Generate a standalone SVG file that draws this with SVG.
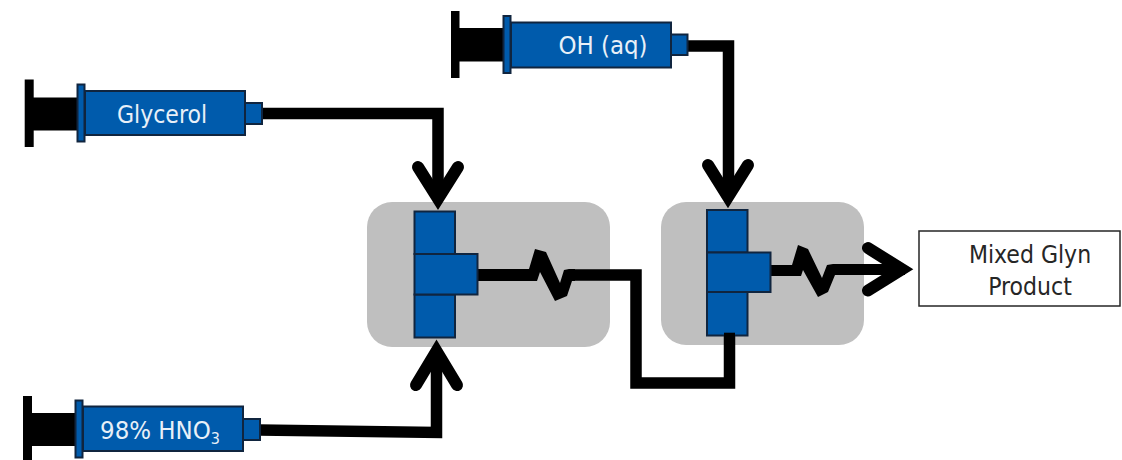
<svg xmlns="http://www.w3.org/2000/svg" width="1122" height="460" viewBox="0 0 1122 460">
<style>
.blue{fill:#005bac;stroke:#10253f;stroke-width:2}
.blk{fill:#000}
.pipe{fill:none;stroke:#000;stroke-width:11.5;stroke-linejoin:miter}
.head{fill:none;stroke:#000;stroke-width:12;stroke-linecap:round;stroke-linejoin:miter}
.chip{fill:#bfbfbf}
text{font-family:"DejaVu Sans","Noto Sans",sans-serif;font-stretch:condensed;font-size:24.500px;text-anchor:middle}
.w{fill:#e8f0f8}
.d{fill:#262626}
</style>
<rect width="1122" height="460" fill="#fff"/>
<g id="chip-1"><rect class="chip" x="367" y="202" width="243" height="145" rx="25"/></g>
<g id="chip-2"><rect class="chip" x="661" y="202" width="203" height="143" rx="25"/></g>
<g id="connectors">
<path class="pipe" d="M261 113.500H438V200"/>
<path class="head" d="M418 167L438 198.700L458 167"/>
<path class="pipe" d="M259 430L436.500 432.500V350"/>
<path class="head" d="M416 385L436.500 351L457 385"/>
<path class="pipe" d="M686 46H728.500V195"/>
<path class="head" d="M708 165L728 197L748 165"/>
<path class="pipe" d="M569 275H636V383H729.500V333"/>
<path class="blk" d="M477 269H529L535 249L546 252L560 283L564 270L569 269H575V281H572L567 296L555 301L540 272L537 281H477Z"/>
<path class="blk" d="M771 265H792L798 245L808 249L822 278L827 265L833 264H905V275H835L828 292L818 297L803 270L801 276H771Z"/>
<path class="head" d="M868 248L902 269.300L868 290.500"/>
</g>
<g id="syringe-glycerol">
<rect class="blk" x="24.700" y="79.500" width="9" height="67.500"/>
<rect class="blk" x="33" y="97.500" width="46" height="33"/>
<rect class="blue" x="77.500" y="84.500" width="7" height="57"/>
<rect class="blue" x="85" y="91" width="160" height="44"/>
<rect class="blue" x="245" y="103" width="17" height="21"/>
<text class="w" x="162" y="123">Glycerol</text>
</g>
<g id="syringe-hno3">
<rect class="blk" x="23" y="396" width="9" height="64"/>
<rect class="blk" x="31" y="413" width="46" height="33"/>
<rect class="blue" x="75.500" y="400.500" width="7" height="57"/>
<rect class="blue" x="83" y="406.500" width="160" height="44.500"/>
<rect class="blue" x="243" y="419" width="17" height="21"/>
<text class="w" x="160" y="439" style="font-size:25.500px">98% HNO<tspan font-size="16" dy="5">3</tspan></text>
</g>
<g id="syringe-oh">
<rect class="blk" x="451" y="11" width="8.500" height="67"/>
<rect class="blk" x="459" y="28" width="46" height="33.500"/>
<rect class="blue" x="503.500" y="16" width="7" height="57"/>
<rect class="blue" x="511" y="22.500" width="160" height="45"/>
<rect class="blue" x="671" y="34.500" width="16.500" height="20.500"/>
<text class="w" x="603" y="54" style="font-size:25.500px">OH (aq)</text>
</g>
<g id="tee-1">
<rect class="blue" x="414.500" y="211.500" width="40.500" height="42.500"/>
<rect class="blue" x="414.500" y="294.500" width="40.500" height="43"/>
<rect class="blue" x="414.500" y="254" width="63" height="40.500"/>
</g>
<g id="tee-2">
<rect class="blue" x="707" y="210" width="40.500" height="42.500"/>
<rect class="blue" x="707" y="292" width="40.500" height="43.500"/>
<rect class="blue" x="707" y="252.500" width="63.500" height="39.500"/>
<rect class="blk" x="724" y="332.700" width="11" height="6"/>
</g>
<g id="product">
<rect x="919" y="231" width="201" height="75" fill="#fff" stroke="#262626" stroke-width="1.500"/>
<text class="d" x="1030" y="263">Mixed Glyn</text>
<text class="d" x="1030" y="295">Product</text>
</g>
</svg>
